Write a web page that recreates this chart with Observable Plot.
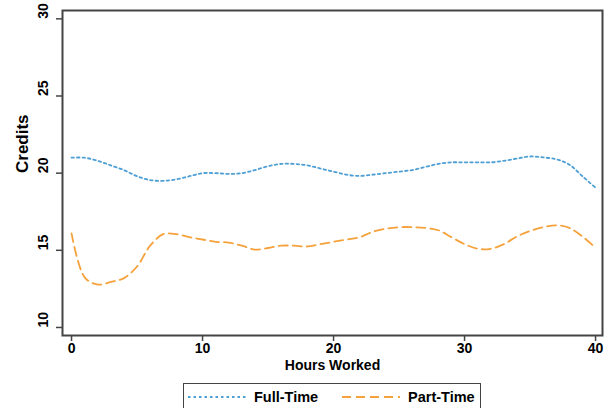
<!DOCTYPE html>
<html>
<head>
<meta charset="utf-8">
<script src="https://cdn.jsdelivr.net/npm/d3@7"></script>
<script src="https://cdn.jsdelivr.net/npm/@observablehq/plot@0.6"></script>
<style>
  body { margin: 0; background: #fff; font-family: "Liberation Sans", Arial, sans-serif; }
  #wrap { width: 615px; }
  #wrap > svg { display: block; }
  #legend { margin-left: 183px; width: 298px; height: 32px; border: 1.5px solid #444; box-sizing: border-box; background: #fff; }
  #legend svg { display: block; }
</style>
</head>
<body>
<div id="wrap"></div>
<script>
const hours = d3.range(0, 41);
const fullTime = [21.0, 21.0, 20.8, 20.5, 20.2, 19.8, 19.55, 19.5, 19.6, 19.8, 20.0, 20.0, 19.95, 20.0, 20.2, 20.45, 20.6, 20.6, 20.5, 20.3, 20.1, 19.9, 19.82, 19.9, 20.0, 20.1, 20.2, 20.4, 20.6, 20.7, 20.7, 20.7, 20.7, 20.8, 20.95, 21.08, 21.02, 20.9, 20.55, 19.8, 19.05];
const partTime = [16.1, 13.25, 12.78, 12.95, 13.2, 13.95, 15.3, 16.05, 16.05, 15.85, 15.7, 15.55, 15.5, 15.3, 15.05, 15.15, 15.3, 15.3, 15.25, 15.4, 15.55, 15.7, 15.85, 16.2, 16.4, 16.5, 16.5, 16.45, 16.3, 15.85, 15.4, 15.1, 15.1, 15.4, 15.9, 16.25, 16.5, 16.62, 16.45, 15.9, 15.15];
const seriesNames = ["Full-Time", "Part-Time"];
const seriesColors = ["#4d9fd6", "#f5a23c"];
const seriesDash = ["2.5,3", "9,5"];
const xTicks = [0, 10, 20, 30, 40];
const yTicks = [10, 15, 20, 25, 30];

const rows = [];
hours.forEach((h, i) => {
  rows.push({hour: h, credits: fullTime[i], series: seriesNames[0]});
  rows.push({hour: h, credits: partTime[i], series: seriesNames[1]});
});

const font = "Liberation Sans, Arial, sans-serif";
const chart = Plot.plot({
  width: 615,
  height: 383,
  marginLeft: 62,
  marginRight: 13,
  marginTop: 10,
  marginBottom: 48,
  style: {fontFamily: font, background: "#fff"},
  x: {domain: [-0.69, 40.53]},
  y: {domain: [9.48, 30.54]},
  marks: [
    Plot.axisX({ticks: xTicks, tickSize: 6, tickFormat: () => "", label: null, stroke: "#444", strokeWidth: 1.5}),
    Plot.axisY({ticks: yTicks, tickSize: 6, tickFormat: () => "", label: null, stroke: "#444", strokeWidth: 1.5}),
    Plot.text(xTicks, {x: d => d, frameAnchor: "bottom", dy: 17, fontSize: 14, fontWeight: "bold", fill: "#000", text: d => String(d)}),
    Plot.text(yTicks, {y: d => d, frameAnchor: "left", dx: -19, rotate: -90, fontSize: 14, fontWeight: "bold", fill: "#000", text: d => String(d)}),
    Plot.line(rows.filter(d => d.series === seriesNames[0]), {x: "hour", y: "credits", stroke: seriesColors[0], strokeWidth: 1.8, strokeDasharray: seriesDash[0], curve: "catmull-rom"}),
    Plot.line(rows.filter(d => d.series === seriesNames[1]), {x: "hour", y: "credits", stroke: seriesColors[1], strokeWidth: 1.8, strokeDasharray: seriesDash[1], curve: "catmull-rom"}),
    Plot.frame({stroke: "#444", strokeWidth: 2}),
    Plot.text(["Credits"], {frameAnchor: "left", dx: -40, rotate: -90, fontSize: 17, fontWeight: "bold", fill: "#000"}),
    Plot.text(["Hours Worked"], {frameAnchor: "bottom", dy: 34, fontSize: 14, fontWeight: "bold", fill: "#000", letterSpacing: "-0.4px"})
  ]
});
const wrap = document.getElementById("wrap");
wrap.appendChild(chart);

// legend below the chart
const legend = document.createElement("div");
legend.id = "legend";
const ls = d3.create("svg").attr("width", 295).attr("height", 29);
const items = [
  {x0: 4, x1: 62, tx: 70},
  {x0: 158, x1: 216, tx: 224}
];
seriesNames.forEach((name, i) => {
  ls.append("line").attr("x1", items[i].x0).attr("x2", items[i].x1).attr("y1", 13).attr("y2", 13)
    .attr("stroke", seriesColors[i]).attr("stroke-width", 1.8).attr("stroke-dasharray", seriesDash[i]);
  ls.append("text").attr("x", items[i].tx).attr("y", 13).attr("dy", "0.35em")
    .attr("font-family", font).attr("font-size", 14.5).attr("font-weight", "bold").text(name);
});
legend.appendChild(ls.node());
wrap.appendChild(legend);
</script>
</body>
</html>
